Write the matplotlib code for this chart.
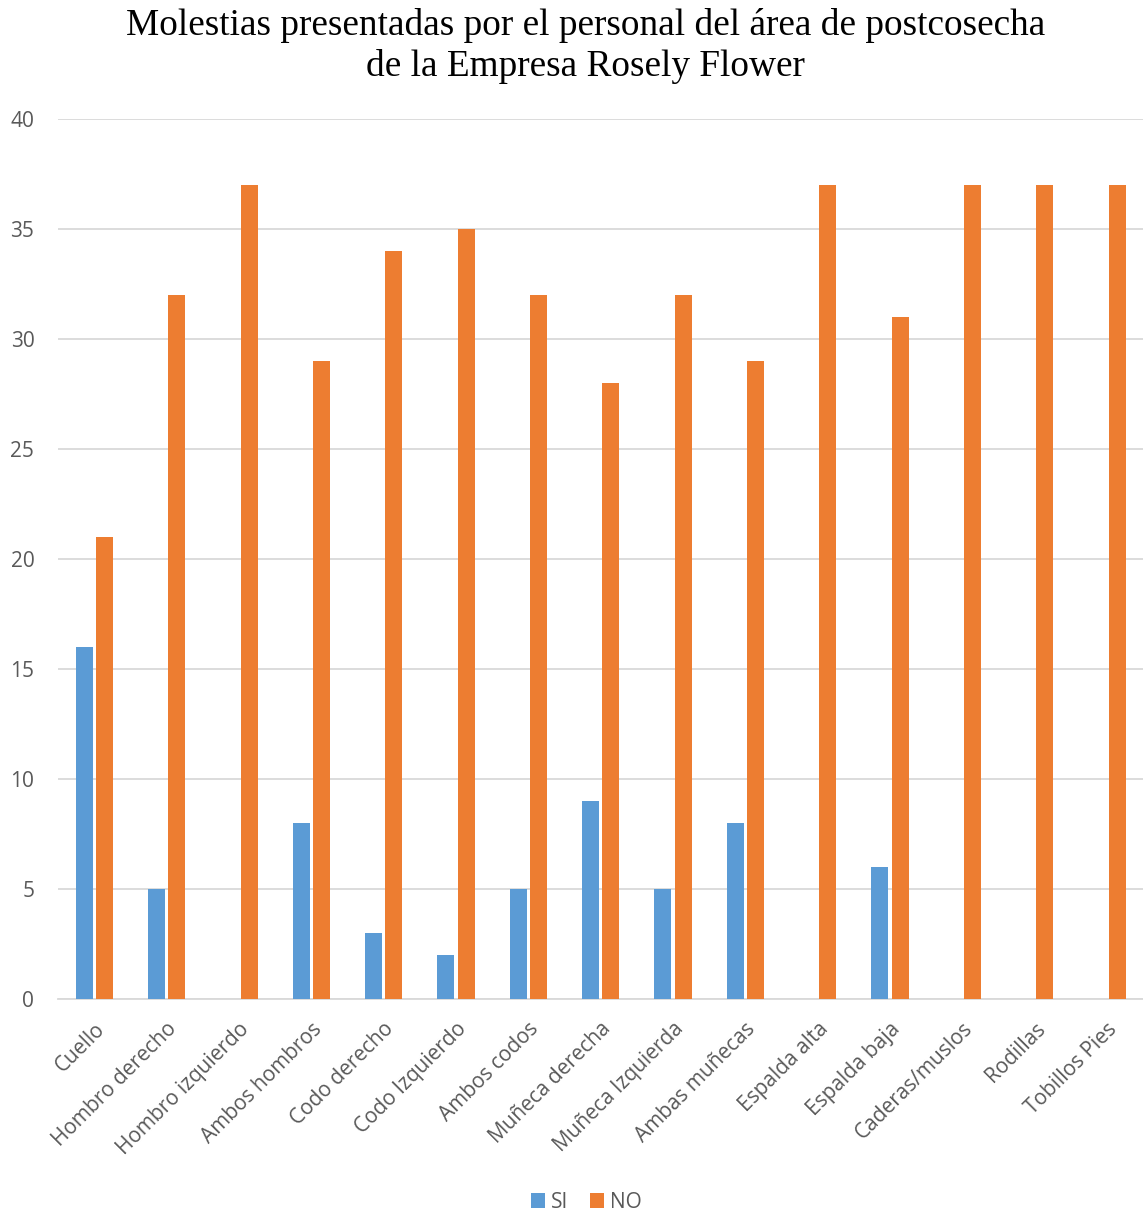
import numpy as np
import matplotlib.pyplot as plt

categorias = ["Cuello", "Hombro derecho", "Hombro izquierdo", "Ambos hombros",
              "Codo derecho", "Codo Izquierdo", "Ambos codos", "Muñeca derecha",
              "Muñeca Izquierda", "Ambas muñecas", "Espalda alta", "Espalda baja",
              "Caderas/muslos", "Rodillas", "Tobillos Pies"]
si = [16, 5, 0, 8, 3, 2, 5, 9, 5, 8, 0, 6, 0, 0, 0]
no = [21, 32, 37, 29, 34, 35, 32, 28, 32, 29, 37, 31, 37, 37, 37]

azul = "#5b9bd5"
naranja = "#ed7d31"
gris = "#595959"

plt.rcParams["font.family"] = ["Open Sans", "DejaVu Sans"]

fig = plt.figure(figsize=(11.43, 12.12), dpi=100)
ax = fig.add_axes([0.0507, 0.1757, 0.9493, 0.7261])

x = np.arange(len(categorias))
w = 0.235
ax.bar(x - 0.138, si, w, color=azul, label="SI", zorder=3)
ax.bar(x + 0.144, no, w, color=naranja, label="NO", zorder=3)

ax.set_xlim(-0.5, len(categorias) - 0.5)
ax.set_ylim(0, 40)
ax.set_yticks(range(0, 41, 5))
ax.grid(axis="y", color="#d9d9d9", linewidth=1.3, zorder=0)
for s in ["top", "right", "left"]:
    ax.spines[s].set_visible(False)
ax.spines["bottom"].set_color("#d9d9d9")
ax.spines["bottom"].set_linewidth(1.3)
ax.tick_params(length=0, labelsize=15, colors=gris, pad=14)
ax.tick_params(axis="y", pad=17)
ax.set_xticks(x)
ax.set_xticklabels(categorias, rotation=45, ha="right", rotation_mode="anchor")

fig.text(0.512, 0.993, "Molestias presentadas por el personal del área de postcosecha\nde la Empresa Rosely Flower",
         ha="center", va="top", fontsize=26.8, family="Liberation Serif", linespacing=1.22)

fig.legend(loc="lower center", bbox_to_anchor=(0.513, -0.016), ncol=2, frameon=False,
           fontsize=15, handlelength=0.7, handleheight=0.7, handletextpad=0.3,
           columnspacing=1.0, labelcolor=gris)

fig.savefig("out.png", dpi=100)
